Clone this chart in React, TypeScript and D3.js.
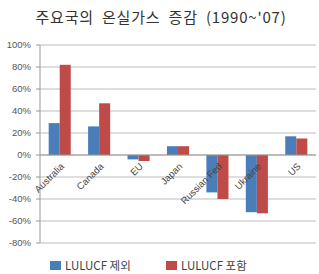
import React from "react";
import * as d3 from "d3";

const categories = ["Australia", "Canada", "EU", "Japan", "Russian Fed", "Ukraine", "US"];
const seriesNames = ["LULUCF 제외", "LULUCF 포함"];
const excl = [29, 26, -4, 8, -34, -52, 17];
const incl = [82, 47, -5.5, 8, -40, -53, 15];
const yTicks = [100, 80, 60, 40, 20, 0, -20, -40, -60, -80];
const colors = ["#4a7ebb", "#be4b48"];

export default function App() {
  const W = 319, H = 274;
  const left = 40, right = 316, top = 45, bottom = 243;
  const y = d3.scaleLinear().domain([-80, 100]).range([bottom, top]);
  const x = d3.scaleBand<string>().domain(categories).range([left, right]).paddingInner(0.44).paddingOuter(0.22);
  const inner = d3.scaleBand<number>().domain([0, 1]).range([0, x.bandwidth()]);
  const series = [excl, incl];
  const font = "'Liberation Sans', Arial, sans-serif";
  return (
    <svg width={W} height={H} style={{ position: "absolute", left: 0, top: 0, background: "#fff" }}>
      <text x={161} y={23} textAnchor="middle" fontFamily="'Noto Sans CJK KR', sans-serif" fontSize={15} letterSpacing={0.8} wordSpacing={4} fill="#333">
        주요국의 온실가스 증감 (1990~'07)
      </text>
      {yTicks.map((t) => (
        <g key={t}>
          <line x1={left} x2={right} y1={y(t)} y2={y(t)} stroke="#bdbdbd" strokeWidth={1} />
          <line x1={left - 4} x2={left} y1={y(t)} y2={y(t)} stroke="#999" strokeWidth={1} />
          <text x={31} y={y(t) + 3} textAnchor="end" fontFamily={font} fontSize={9.5} fill="#555">
            {t}%
          </text>
        </g>
      ))}
      <line x1={left} x2={left} y1={top} y2={bottom} stroke="#999" strokeWidth={1} />
      {categories.map((c, i) => (
        <g key={c}>
          {series.map((s, k) => {
            const v = s[i];
            const x0 = (x(c) as number) + (inner(k) as number);
            return (
              <rect key={k} x={x0} width={inner.bandwidth()} y={Math.min(y(v), y(0))} height={Math.abs(y(v) - y(0))} fill={colors[k]} />
            );
          })}
          <text
            transform={`translate(${(x(c) as number) + x.bandwidth() / 2 + 5},${y(0) + 12}) rotate(-45)`}
            textAnchor="end"
            fontFamily={font}
            fontSize={9.5}
            fill="#444"
          >
            {c}
          </text>
        </g>
      ))}
      <line x1={left} x2={right} y1={y(0)} y2={y(0)} stroke="#999" strokeWidth={1} />
      {seriesNames.map((n, k) => {
        const lx = k === 0 ? 50 : 166;
        return (
          <g key={n}>
            <rect x={lx} y={261} width={11} height={9} fill={colors[k]} />
            <text x={lx + 15} y={270} fontFamily="'Noto Sans CJK KR', sans-serif" fontSize={11.5} fill="#444">
              {n}
            </text>
          </g>
        );
      })}
    </svg>
  );
}
